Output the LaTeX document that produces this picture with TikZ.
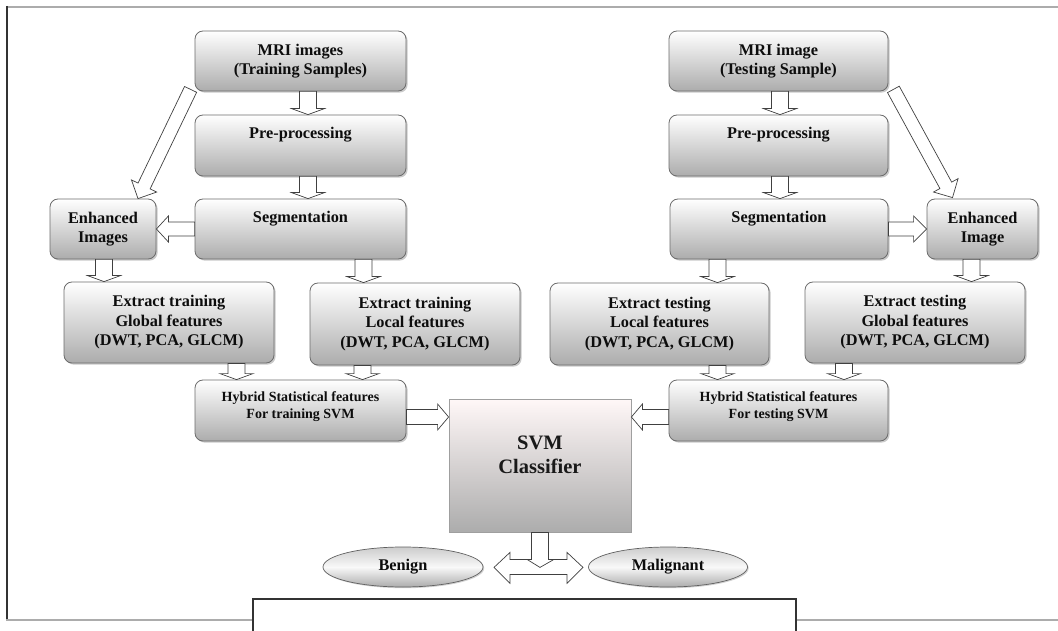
\documentclass[tikz,border=0pt]{standalone}
\usepackage{fontspec}
\setmainfont{Liberation Serif}
\usetikzlibrary{calc,shadows,shapes.geometric}
\tikzset{
  box/.style={draw=gray!85!black, line width=0.8pt, rounded corners=8pt,
    top color=white, bottom color=gray!65,
    drop shadow={shadow xshift=1.6pt, shadow yshift=-1.6pt, opacity=0.35, fill=gray!80!black},
    font=\fontsize{16.3}{19.5}\selectfont\bfseries, align=center, inner sep=0pt, text=black!95},
  smallbox/.style={box, font=\fontsize{14}{17}\selectfont\bfseries},
  svmbox/.style={draw=gray!75, line width=0.8pt, top color=red!3!white, bottom color=gray!65,
    inner sep=0pt},
  oval/.style={ellipse, draw=gray!75!black, line width=0.7pt, top color=gray!40, bottom color=gray!65,
    middle color=gray!5, inner sep=0pt,
    drop shadow={shadow xshift=1.2pt, shadow yshift=-1.2pt, opacity=0.3, fill=gray!80!black},
    font=\fontsize{16.3}{19.5}\selectfont\bfseries, text=black!95},
  lbl/.style={font=\fontsize{16.3}{19.5}\selectfont\bfseries, align=center, inner sep=0pt, text=black!95},
  smalllbl/.style={lbl, font=\fontsize{14}{17}\selectfont\bfseries},
  biglbl/.style={font=\fontsize{20.5}{23.5}\selectfont\bfseries, align=center, inner sep=0pt, text=black!90},
  barrow/.style={draw=black!75, fill=white, line width=0.7pt, line join=miter},
  greyline/.style={draw=gray!65, line width=2pt},
  darkline/.style={draw=black!80, line width=1.6pt},
}
% #1 tail, #2 tip, #3 half shaft, #4 half head, #5 head length
\newcommand\blockarrow[5]{%
  \coordinate (ba-h) at ($(#2)!#5pt!(#1)$);
  \draw[barrow] ($(#1)!#3pt!90:(#2)$) -- ($(ba-h)!#3pt!-90:(#1)$) -- ($(ba-h)!#4pt!-90:(#1)$) -- (#2)
    -- ($(ba-h)!#4pt!90:(#1)$) -- ($(ba-h)!#3pt!90:(#1)$) -- ($(#1)!#3pt!-90:(#2)$) -- cycle;}
% vertical block arrow: #1 start point, #2 target node
\newcommand\vblock[2]{%
  \coordinate (vb-s) at (#1);
  \coordinate (vb-e) at (vb-s |- #2.north);
  \blockarrow{vb-s}{vb-e}{8.5}{16.5}{6}}
\begin{document}
\begin{tikzpicture}[x=1pt,y=-1pt]
\useasboundingbox (0,0) rectangle (1058,631);
% frame
\draw[greyline] (1058,7) -- (7,7);
\draw[darkline] (7,6) -- (7,620);
\draw[greyline] (6,620) -- (253,620);
\draw[greyline] (796,620) -- (1058,620);
\draw[draw=black!80, line width=1.1pt] (253,631) -- (253,599) -- (796,599) -- (796,631);

% left column
\node[box, minimum width=211, minimum height=60] (mri1) at (300.5,61) {MRI images\\(Training Samples)};
\node[box, minimum width=211, minimum height=61] (pre1) at (300.5,145.5) {};
\node[lbl] (pre1t) at (300.5,135) {Pre-processing};
\node[box, minimum width=211, minimum height=60] (seg1) at (300.5,229) {};
\node[lbl] (seg1t) at (300.5,219) {Segmentation};
\node[box, minimum width=106, minimum height=60] (enh1) at (103,229) {Enhanced\\Images};
\node[box, minimum width=210, minimum height=81] (glob1) at (169,322.5) {Extract training\\Global features\\(DWT, PCA, GLCM)};
\node[box, minimum width=210, minimum height=82] (loc1) at (415,324) {Extract training\\Local features\\(DWT, PCA, GLCM)};
\node[smallbox, minimum width=211, minimum height=61] (hyb1) at (300.5,410.5) {};
\node[smalllbl] (hyb1t) at (300.5,406.5) {Hybrid Statistical features\\For training SVM};

% right column
\node[box, minimum width=219, minimum height=60] (mri2) at (778.5,61) {MRI image\\(Testing Sample)};
\node[box, minimum width=219, minimum height=61] (pre2) at (778.5,145.5) {};
\node[lbl] (pre2t) at (778.5,135) {Pre-processing};
\node[box, minimum width=218, minimum height=60] (seg2) at (779,229) {};
\node[lbl] (seg2t) at (779,219) {Segmentation};
\node[box, minimum width=111, minimum height=60] (enh2) at (982.5,229) {Enhanced\\Image};
\node[box, minimum width=219, minimum height=82] (loc2) at (659.5,324) {Extract testing\\Local features\\(DWT, PCA, GLCM)};
\node[box, minimum width=220, minimum height=81] (glob2) at (915,322.5) {Extract testing\\Global features\\(DWT, PCA, GLCM)};
\node[smallbox, minimum width=219, minimum height=61] (hyb2) at (778.5,410.5) {};
\node[smalllbl] (hyb2t) at (778.5,406.5) {Hybrid Statistical features\\For testing SVM};

% classifier and outputs
\node[svmbox, minimum width=182, minimum height=133] (svm) at (540,465.5) {};
\node[biglbl] (svmt) at (540,455) {SVM\\Classifier};
\node[oval, minimum width=160, minimum height=40] (ben) at (403,567) {Benign};
\node[oval, minimum width=159, minimum height=40] (mal) at (668,567) {Malignant};

% vertical arrows
\vblock{[xshift=7.5pt]mri1.south}{pre1}
\vblock{[xshift=7.5pt]pre1.south}{seg1}
\vblock{[xshift=63pt]seg1.south}{loc1}
\vblock{[xshift=1pt]enh1.south}{glob1}
\vblock{[xshift=67.5pt]glob1.south}{hyb1}
\vblock{[xshift=-52.5pt]loc1.south}{hyb1}
\vblock{[xshift=1.5pt]mri2.south}{pre2}
\vblock{[xshift=1.5pt]pre2.south}{seg2}
\vblock{[xshift=-61.5pt]seg2.south}{loc2}
\vblock{[xshift=-11pt]enh2.south}{glob2}
\vblock{[xshift=58pt]loc2.south}{hyb2}
\vblock{[xshift=-71pt]glob2.south}{hyb2}

% horizontal arrows
\blockarrow{seg1.west}{enh1.east}{7}{13}{12}
\blockarrow{seg2.east}{enh2.west}{7}{13}{13}
\coordinate (h1s) at ([yshift=-6.5pt]hyb1.east);
\coordinate (h1e) at (h1s -| svm.west);
\blockarrow{h1s}{h1e}{7.5}{13}{11}
\coordinate (h2s) at ([yshift=-6.5pt]hyb2.west);
\coordinate (h2e) at (h2s -| svm.east);
\blockarrow{h2s}{h2e}{7.5}{13}{11}

% diagonal arrows
\coordinate (d1s) at ([xshift=-4pt,yshift=2pt]mri1.south west);
\coordinate (d1e) at ([xshift=35pt]enh1.north);
\blockarrow{d1s}{d1e}{6.7}{14}{14}
\coordinate (d2s) at ([xshift=5pt,yshift=2pt]mri2.south east);
\coordinate (d2e) at ([xshift=-30pt,yshift=1pt]enh2.north);
\blockarrow{d2s}{d2e}{6.7}{14}{14}

% bottom split arrow
\coordinate (dc) at (svm.south);
\draw[barrow] ($(dc)+(-46,35)$) -- ($(dc)+(-30,20)$) -- ($(dc)+(-30,27)$) -- ($(dc)+(-8.5,27)$)
  -- ($(dc)+(-8.5,0)$) -- ($(dc)+(8.5,0)$) -- ($(dc)+(8.5,27)$) -- ($(dc)+(27,27)$)
  -- ($(dc)+(27,20)$) -- ($(dc)+(43,35)$) -- ($(dc)+(27,51)$) -- ($(dc)+(27,42)$)
  -- ($(dc)+(-30,42)$) -- ($(dc)+(-30,51)$) -- cycle;
\draw[draw=black!75, line width=0.7pt] ($(dc)+(-13,27)$) -- ($(dc)+(0,35)$) -- ($(dc)+(14,27)$);
\end{tikzpicture}
\end{document}
